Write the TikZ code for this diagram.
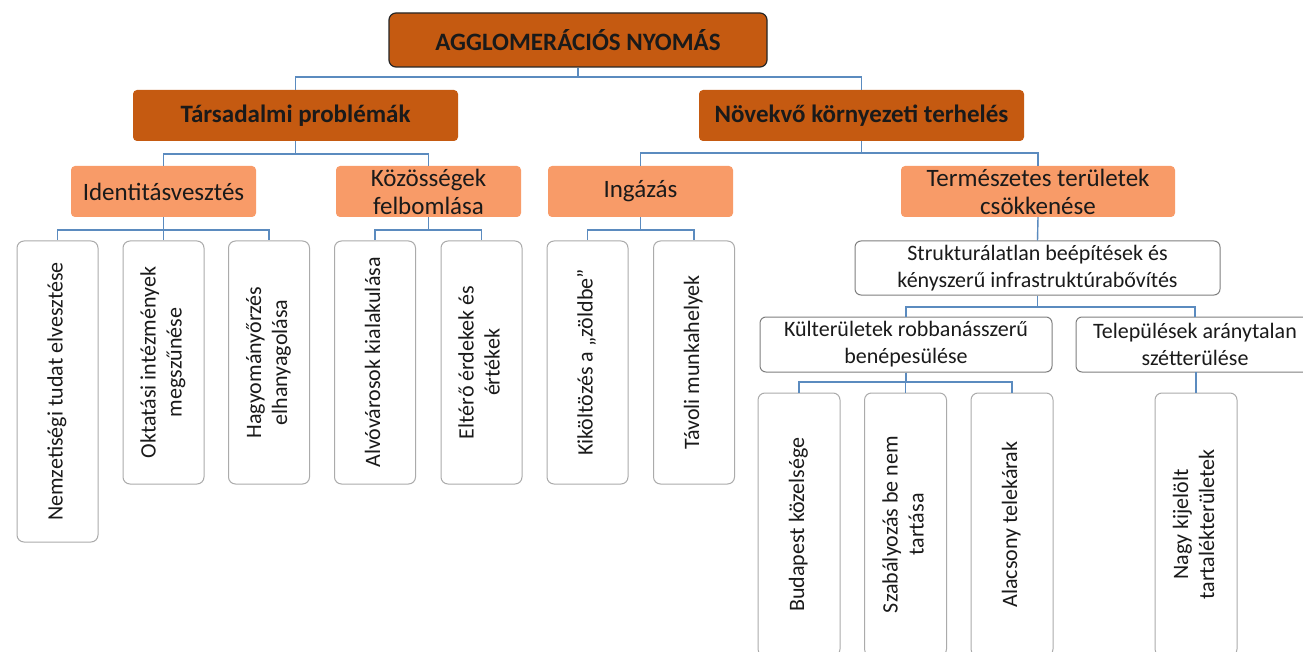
\documentclass[tikz,border=0pt]{standalone}
\usepackage{fontspec}
\setmainfont{Carlito}
\usepackage{graphicx}
\definecolor{dorange}{HTML}{C55A11}
\definecolor{lorange}{HTML}{F89B68}
\definecolor{linkblue}{HTML}{5B8BBF}
\definecolor{leafgray}{HTML}{ABABAB}
\definecolor{midgray}{HTML}{7F7F7F}
\definecolor{txt}{HTML}{1A1A1A}
\newcommand\vtext[1]{\rotatebox{90}{\begin{tabular}{@{}c@{}}#1\end{tabular}}}
\begin{document}
\begin{tikzpicture}[x=1pt,y=-1pt,
  box/.style={rectangle, inner sep=0pt, align=center, text=txt},
  lvlone/.style={box, fill=dorange, draw=black!85, line width=1.2pt, rounded corners=7pt, font=\fontsize{25}{28}\selectfont\bfseries},
  lvltwo/.style={box, fill=dorange, rounded corners=4pt, font=\fontsize{25}{28}\selectfont\bfseries},
  lvlthree/.style={box, fill=lorange, rounded corners=4pt, font=\fontsize{25}{28}\selectfont},
  wbox/.style={box, fill=white, draw=midgray, line width=1pt, rounded corners=6pt, font=\fontsize{22}{27}\selectfont},
  leaf/.style={box, fill=white, draw=leafgray, line width=1pt, rounded corners=7pt, font=\fontsize{22}{26}\selectfont},
  link/.style={draw=linkblue, line width=1.4pt}
]
\clip (0,0) rectangle (1303,652);
\fill[white] (0,0) rectangle (1303,652);

% bus levels
\coordinate (b0) at (0,77);
\coordinate (b1) at (0,154);
\coordinate (b2) at (0,153);
\coordinate (b3) at (0,230);
\coordinate (b4) at (0,307);
\coordinate (b5) at (0,382);

% nodes
\node[lvlone, minimum width=378, minimum height=54] (top) at (578,40) {AGGLOMERÁCIÓS NYOMÁS};
\node[lvltwo, minimum width=325, minimum height=51] (tars) at (295.5,115.5) {Társadalmi problémák};
\node[lvltwo, minimum width=325, minimum height=51] (nov) at (861.5,115.5) {Növekvő környezeti terhelés};

\node[lvlthree, minimum width=185, minimum height=51] (ident) at (163.5,191.5) {Identitásvesztés};
\node[lvlthree, minimum width=185, minimum height=51] (koz) at (428.5,191.5) {Közösségek\\felbomlása};
\node[lvlthree, minimum width=185, minimum height=51] (ing) at (640.5,191.5) {Ingázás};
\node[lvlthree, minimum width=274, minimum height=51] (term) at (1038,191.5) {Természetes területek\\csökkenése};

\node[leaf, minimum width=81, minimum height=301] (nemz) at (57.5,391.5) {\vtext{Nemzetiségi tudat elvesztése}};
\node[leaf, minimum width=81, minimum height=243] (okt) at (163.5,362.5) {\vtext{Oktatási intézmények\\megszűnése}};
\node[leaf, minimum width=81, minimum height=243] (hagy) at (269,362.5) {\vtext{Hagyományőrzés\\elhanyagolása}};
\node[leaf, minimum width=81, minimum height=243] (alvo) at (375,362.5) {\vtext{Alvóvárosok kialakulása}};
\node[leaf, minimum width=81, minimum height=243] (elt) at (481.5,362.5) {\vtext{Eltérő érdekek és\\értékek}};
\node[leaf, minimum width=81, minimum height=243] (kik) at (587.5,362.5) {\vtext{Kiköltözés a „zöldbe”}};
\node[leaf, minimum width=81, minimum height=243] (tav) at (694,362.5) {\vtext{Távoli munkahelyek}};

\node[wbox, minimum width=365, minimum height=54] (strukt) at (1037.5,268) {Strukturálatlan beépítések és\\kényszerű infrastruktúrabővítés};
\node[wbox, minimum width=292, minimum height=55] (kulter) at (906,344.5) {Külterületek robbanásszerű\\benépesülése};
\node[wbox, minimum width=238, minimum height=55] (telep) at (1195,344.5) {Települések aránytalan\\szétterülése};

\node[leaf, minimum width=82, minimum height=263] (buda) at (799,524.5) {\vtext{Budapest közelsége}};
\node[leaf, minimum width=82, minimum height=263] (szab) at (905.5,524.5) {\vtext{Szabályozás be nem\\tartása}};
\node[leaf, minimum width=82, minimum height=263] (alac) at (1012,524.5) {\vtext{Alacsony telekárak}};
\node[leaf, minimum width=82, minimum height=263] (nagy) at (1196,524.5) {\vtext{Nagy kijelölt\\tartalékterületek}};

% connectors
\foreach \c in {tars,nov} \draw[link] (top.south) -- (top.south |- b0) -| (\c.north);
\foreach \c in {ident,koz} \draw[link] (tars.south) -- (tars.south |- b1) -| (\c.north);
\foreach \c in {ing,term} \draw[link] (nov.south) -- (nov.south |- b2) -| (\c.north);
\foreach \c in {nemz,okt,hagy} \draw[link] (ident.south) -- (ident.south |- b3) -| (\c.north);
\foreach \c in {alvo,elt} \draw[link] (koz.south) -- (koz.south |- b3) -| (\c.north);
\foreach \c in {kik,tav} \draw[link] (ing.south) -- (ing.south |- b3) -| (\c.north);
\draw[link] (term.south) -- (strukt.north);
\foreach \c in {kulter,telep} \draw[link] (strukt.south) -- (strukt.south |- b4) -| (\c.north);
\foreach \c in {buda,szab,alac} \draw[link] (kulter.south) -- (kulter.south |- b5) -| (\c.north);
\draw[link] (telep.south) -- (telep.south -| nagy.north) -- (nagy.north);
\end{tikzpicture}
\end{document}
